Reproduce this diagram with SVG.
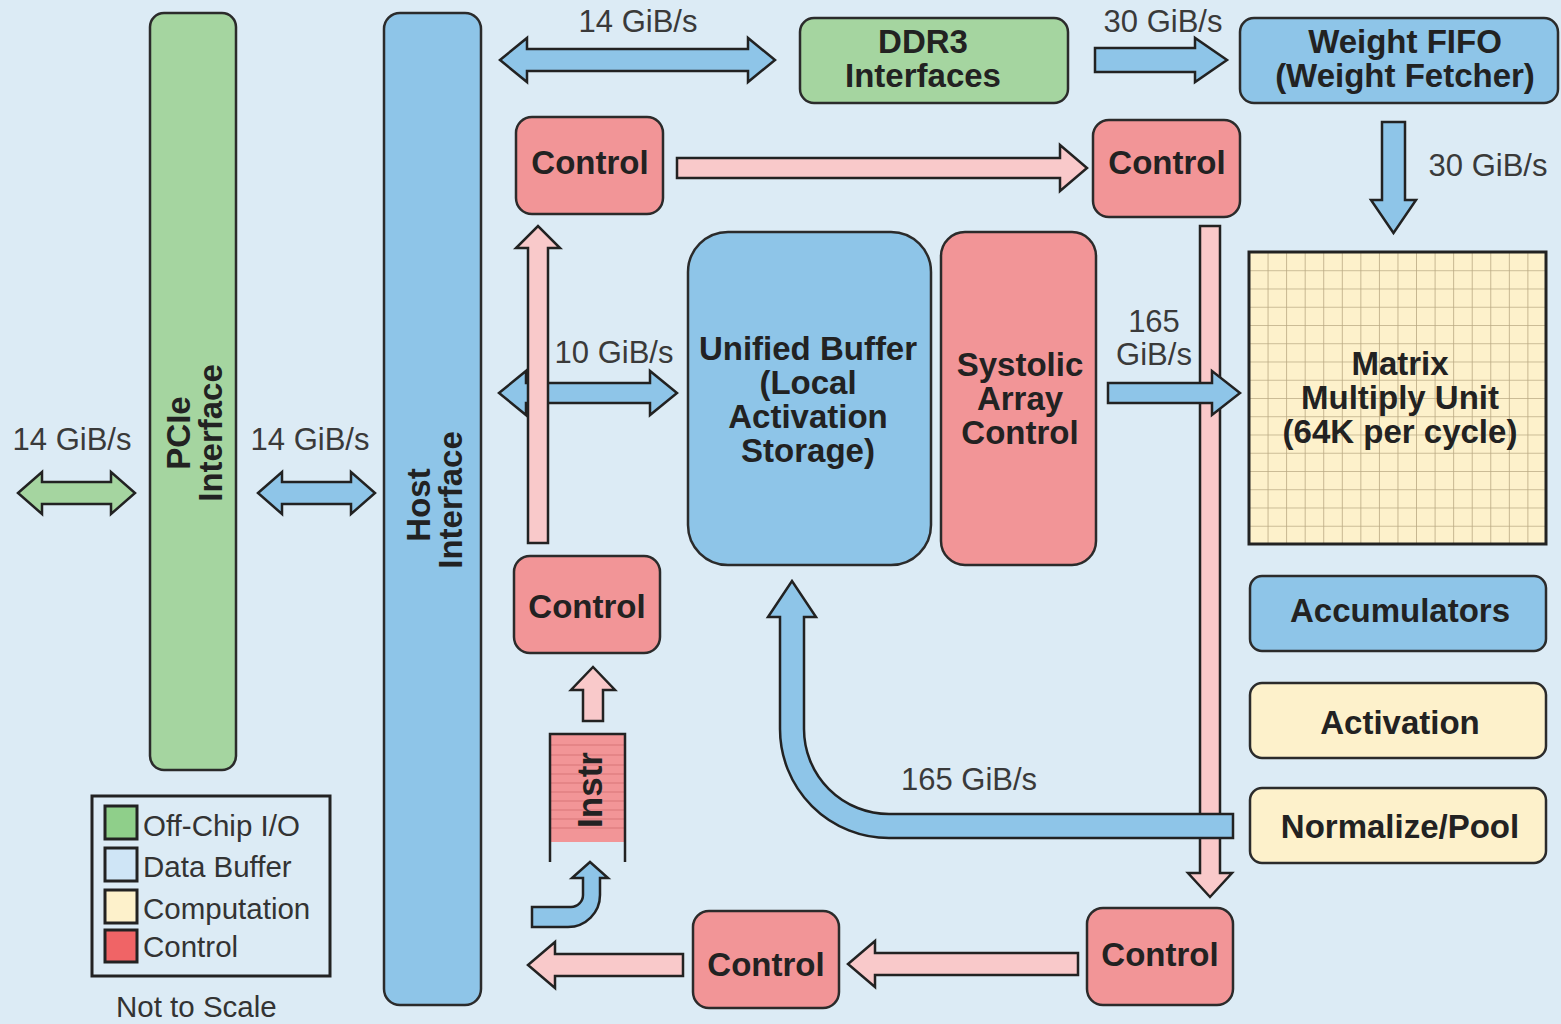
<svg xmlns="http://www.w3.org/2000/svg" width="1561" height="1024" viewBox="0 0 1561 1024">
<defs>
<pattern id="grid" patternUnits="userSpaceOnUse" x="1249" y="252" width="18.56" height="18.25">
<path d="M0 0 H18.56 M0 0 V18.25" fill="none" stroke="#b9a983" stroke-width="1.6"/>
</pattern>
<style>
.bg{fill:#dcebf5}
.box{stroke:#2b2b2b;stroke-width:2.5}
.io{fill:#a5d5a0}
.buf{fill:#8ec5e8}
.ctl{fill:#f29597}
.cmp{fill:#fdf1cb}
.arB{fill:#8ec5e8;stroke:#222;stroke-width:2.5;stroke-linejoin:miter}
.arG{fill:#a5d5a0;stroke:#222;stroke-width:2.5}
.arP{fill:#f9c9ca;stroke:#222;stroke-width:2.5}
.t{font-family:"Liberation Sans","DejaVu Sans",sans-serif;font-weight:bold;font-size:33px;fill:#222;text-anchor:middle}
.lbl{font-family:"Liberation Sans","DejaVu Sans",sans-serif;font-size:31px;fill:#3a3a3a;text-anchor:middle}
.leg{font-family:"Liberation Sans","DejaVu Sans",sans-serif;font-size:29.5px;fill:#333}
</style>
</defs>
<rect class="bg" x="0" y="0" width="1561" height="1024"/>

<g id="pcie">
<rect class="box io" x="150" y="13" width="86" height="757" rx="14"/>
<text class="t" transform="translate(190,433) rotate(-90)">PCIe</text>
<text class="t" transform="translate(222,433) rotate(-90)">Interface</text>
</g>
<g id="host">
<rect class="box buf" x="384" y="13" width="97" height="992" rx="16"/>
<text class="t" transform="translate(430,505) rotate(-90)">Host</text>
<text class="t" transform="translate(462,500) rotate(-90)">Interface</text>
</g>
<g id="ddr3">
<rect class="box io" x="800" y="18" width="268" height="85" rx="14"/>
<text class="t" x="923" y="53">DDR3</text>
<text class="t" x="923" y="87">Interfaces</text>
</g>
<g id="weightfifo">
<rect class="box buf" x="1240" y="18" width="318" height="85" rx="14"/>
<text class="t" x="1405" y="53">Weight FIFO</text>
<text class="t" x="1405" y="87">(Weight Fetcher)</text>
</g>
<g id="control1">
<rect class="box ctl" x="516" y="117" width="147" height="97" rx="16"/>
<text class="t" x="590" y="174">Control</text>
</g>
<g id="control2">
<rect class="box ctl" x="1093" y="120" width="147" height="97" rx="16"/>
<text class="t" x="1167" y="174">Control</text>
</g>
<g id="unifiedbuffer">
<rect class="box buf" x="688" y="232" width="243" height="333" rx="40"/>
<text class="t" x="808" y="360">Unified Buffer</text>
<text class="t" x="808" y="394">(Local</text>
<text class="t" x="808" y="428">Activation</text>
<text class="t" x="808" y="462">Storage)</text>
</g>
<g id="systolic">
<rect class="box ctl" x="941" y="232" width="155" height="333" rx="24"/>
<text class="t" x="1020" y="376">Systolic</text>
<text class="t" x="1020" y="410">Array</text>
<text class="t" x="1020" y="444">Control</text>
</g>
<g id="mmu">
<rect x="1249" y="252" width="297" height="292" fill="#fdf1cb"/>
<rect x="1249" y="252" width="297" height="292" fill="url(#grid)"/>
<rect x="1249" y="252" width="297" height="292" fill="none" stroke="#222" stroke-width="3"/>
<text class="t" x="1400" y="375">Matrix</text>
<text class="t" x="1400" y="409">Multiply Unit</text>
<text class="t" x="1400" y="443">(64K per cycle)</text>
</g>
<g id="accumulators">
<rect class="box buf" x="1250" y="576" width="296" height="75" rx="12"/>
<text class="t" x="1400" y="622">Accumulators</text>
</g>
<g id="activation">
<rect class="box cmp" x="1250" y="683" width="296" height="75" rx="12"/>
<text class="t" x="1400" y="734">Activation</text>
</g>
<g id="normalize">
<rect class="box cmp" x="1250" y="788" width="296" height="75" rx="12"/>
<text class="t" x="1400" y="838">Normalize/Pool</text>
</g>
<g id="control3">
<rect class="box ctl" x="514" y="556" width="146" height="97" rx="16"/>
<text class="t" x="587" y="618">Control</text>
</g>
<g id="instr">
<rect x="550" y="734" width="75" height="108" fill="#f29597"/>
<path d="M550 745 H625 M550 755 H625 M550 765 H625 M550 774 H625 M550 783 H625 M550 792 H625 M550 801 H625 M550 810 H625 M550 819 H625 M550 828 H625" stroke="#d87678" stroke-width="1.2"/>
<path d="M550 862 V734 H625 V862" fill="none" stroke="#222" stroke-width="2.5"/>
<text class="t" style="font-size:35px" transform="translate(602,790) rotate(-90)">Instr</text>
</g>
<g id="control4">
<rect class="box ctl" x="693" y="911" width="146" height="97" rx="16"/>
<text class="t" x="766" y="976">Control</text>
</g>
<g id="control5">
<rect class="box ctl" x="1087" y="908" width="146" height="97" rx="16"/>
<text class="t" x="1160" y="966">Control</text>
</g>
<g id="legend">
<rect x="92" y="796" width="238" height="180" fill="#dcebf5" stroke="#222" stroke-width="3"/>
<rect x="105" y="806" width="32" height="33" fill="#8fcf8a" stroke="#222" stroke-width="3"/>
<rect x="105" y="848" width="32" height="33" fill="#cfe5f6" stroke="#222" stroke-width="3"/>
<rect x="105" y="890" width="32" height="33" fill="#fdf1cb" stroke="#222" stroke-width="3"/>
<rect x="105" y="930" width="32" height="32" fill="#f06466" stroke="#222" stroke-width="3"/>
<text class="leg" x="143" y="836">Off-Chip I/O</text>
<text class="leg" x="143" y="877">Data Buffer</text>
<text class="leg" x="143" y="919">Computation</text>
<text class="leg" x="143" y="957">Control</text>
<text class="leg" x="116" y="1017">Not to Scale</text>
</g>

<g id="connectors">
<path class="arP" d="M1200 226 V873 H1188 L1210 897 L1232 873 H1220 V226 Z"/>
<path class="arP" d="M677 158 H1060 V145 L1087 168 L1060 191 V178 H677 Z"/>
<path class="arP" d="M583 721 V690 H571 L593 667 L615 690 H603 V721 Z"/>
<path class="arP" d="M1078 953 H875 V941 L848 964 L875 987 V975 H1078 Z"/>
<path class="arP" d="M683 954 H555 V942 L528 965 L555 988 V976 H683 Z"/>
<path class="arG" d="M18 493 L42 472 V482 H111 V472 L135 493 L111 514 V504 H42 V514 Z"/>
<path class="arB" d="M258 493 L282 472 V482 H351 V472 L375 493 L351 514 V504 H282 V514 Z"/>
<path class="arB" d="M500 60 L527 38 V49 H748 V38 L775 60 L748 82 V71 H527 V82 Z"/>
<path class="arB" d="M499 393 L526 371 V383 H650 V371 L677 393 L650 415 V403 H526 V415 Z"/>
<path class="arP" d="M528 543 V248 H516 L538 226 L560 248 H548 V543 Z"/>
<path class="arB" d="M1095 48 H1195 V38 L1227 60 L1195 82 V72 H1095 Z"/>
<path class="arB" d="M1108 383 H1212 V371 L1240 393 L1212 415 V403 H1108 Z"/>
<path class="arB" d="M1382 122 H1405 V200 H1416 L1393.5 233 L1371 200 H1382 Z"/>
<path class="arB" d="M1233 814 L889 814 A85 85 0 0 1 804 729 L804 617 L816 617 L792 581 L768 617 L780 617 L780 729 A109 109 0 0 0 889 838 L1233 838 Z"/>
<path class="arB" d="M532 907 L571 907 A12 12 0 0 0 583 895 L583 878 L572 878 L590 862 L608 878 L600 878 L600 895 A32 32 0 0 1 568 927 L532 927 Z"/>
<text class="lbl" x="72" y="450">14 GiB/s</text>
<text class="lbl" x="310" y="450">14 GiB/s</text>
<text class="lbl" x="638" y="32">14 GiB/s</text>
<text class="lbl" x="1163" y="32">30 GiB/s</text>
<text class="lbl" x="1488" y="176">30 GiB/s</text>
<text class="lbl" x="614" y="363">10 GiB/s</text>
<text class="lbl" x="1154" y="332">165</text>
<text class="lbl" x="1154" y="365">GiB/s</text>
<text class="lbl" x="969" y="790">165 GiB/s</text>
</g>
</svg>
